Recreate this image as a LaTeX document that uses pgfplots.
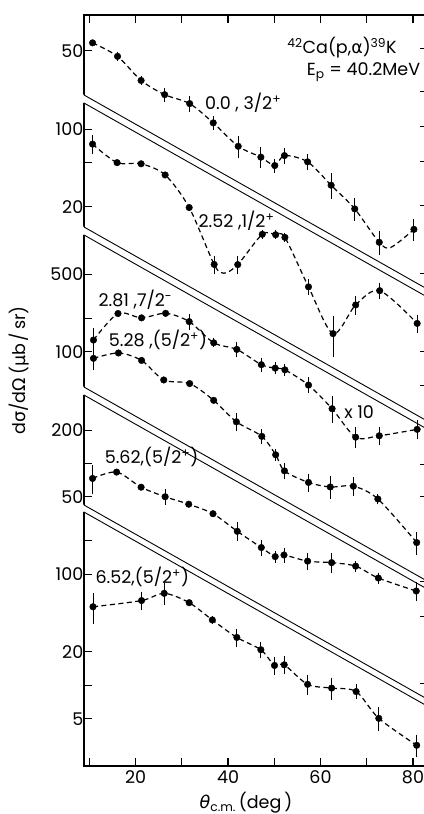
\documentclass[border=0pt]{standalone}
\usepackage{pgfplots}
\pgfplotsset{compat=1.18}
\usepackage{pgfplotstable}
\usepackage{fontspec}
\setmainfont{Poppins}
\newfontfamily\greek{DejaVu Sans}

% Angular distributions: angle (deg), cross section, relative error
\pgfplotstableread{
x v r
10.7 58.9 0
16.1 44.5 0.03
21.2 27.0 0.03
26.3 20.1 0.08
31.7 16.7 0.10
36.8 11.2 0.08
42.2 6.89 0.17
47.1 5.50 0.15
50.1 4.62 0.08
52.2 5.68 0.10
57.2 4.99 0.10
62.3 3.07 0.20
67.4 1.88 0.17
72.7 0.94 0.19
80.2 1.23 0.17
}\dataA
\pgfplotstableread{
x v
10.7 58.9
16.1 44.5
21.2 27.0
26.3 20.1
31.7 16.7
36.8 11.2
42.2 6.89
47.1 5.50
50.1 4.62
52.2 5.68
57.2 4.99
62.3 3.07
67.4 1.88
72.7 0.94
75.2 0.845
80.2 1.23
}\fitA
\pgfplotstableread{
x v r
10.7 73.4 0.13
16.0 50.0 0
21.2 48.8 0
26.4 38.7 0
31.6 19.7 0
37.0 6.05 0.13
42.1 6.03 0.13
47.4 11.3 0.03
50.3 11.2 0.03
52.3 10.6 0.03
57.4 3.8 0.10
62.7 1.44 0.35
67.6 2.61 0.13
72.8 3.51 0.11
80.9 1.78 0.13
}\dataB
\pgfplotstableread{
x v
10.7 73.4
16.0 50.0
21.2 48.8
26.4 38.7
31.6 19.7
37.0 6.05
39.1 5.04
42.1 6.03
47.4 11.3
50.3 11.2
52.3 10.6
57.4 3.8
62.7 1.44
67.6 2.61
72.8 3.51
80.9 1.78
}\fitB
\pgfplotstableread{
x v r
10.9 127.5 0.21
16.2 221 0
21.3 202 0
26.5 222 0
31.6 187 0.10
36.9 120.5 0.03
41.9 105 0.10
47.2 76.5 0.09
50.2 71.2 0.06
52.3 68.7 0.06
57.4 50.1 0.10
62.5 30.7 0.21
67.6 17.0 0.15
72.7 17.5 0.13
80.9 20.0 0.13
}\dataC
\pgfplotstableread{
x v r
10.9 87.2 0.17
16.3 97.5 0
21.3 83.5 0
26.1 55.7 0
31.7 51.7 0
36.9 36.5 0
41.8 23.4 0.13
47.3 17.3 0.09
50.3 11.8 0.06
52.2 8.45 0.11
57.4 6.65 0.13
62.1 6.05 0.17
67.1 6.15 0.13
72.4 4.72 0.05
80.8 1.91 0.17
}\dataD
\pgfplotstableread{
x v r
10.7 73.4 0.23
15.9 83.8 0
21.2 61.2 0
26.4 50.2 0.10
31.5 43.0 0
36.75 35.3 0
42.0 24.5 0.13
47.2 17.5 0.11
50.2 14.5 0.06
52.1 15.0 0.09
57.2 13.2 0.11
62.4 12.8 0.15
67.6 11.9 0.05
72.5 9.3 0.05
80.7 7.1 0.13
}\dataE
\pgfplotstableread{
x v r
10.8 51.0 0.26
21.3 58.0 0.13
26.2 67.4 0.16
31.6 55.5 0
36.6 38.8 0.03
41.9 27.0 0.13
47.1 20.9 0.11
50.05 15.1 0.13
52.15 15.3 0.12
57.2 10.2 0.15
62.4 9.44 0.17
67.7 8.78 0.09
72.6 5.04 0.19
80.8 2.88 0.17
}\dataF

\newcommand\lbl{\fontsize{17.5bp}{20bp}\selectfont}

% each panel is a log scale shifted by its own offset (in decades)
\pgfplotsset{
  pts/.style={only marks, mark=*, mark size=3.3bp, black,
    error bars/.cd, y dir=both, y explicit,
    error bar style={line width=0.9bp, black},
    error mark=-, error mark options={mark size=3bp, line width=0.9bp, black}},
  fit/.style={black, smooth, no marks, line width=1.2bp, dash pattern=on 5bp off 3.5bp},
  sepband/.style={draw=none, fill=white, no marks},
  sepline/.style={black, line width=0.9bp, no marks},
}
\newcommand\datplot[2]{%
  \addplot[pts] table[x=x, y expr={ln(\thisrow{v})/2.302585+#2},
    y error plus expr={ln(1+\thisrow{r})/2.302585},
    y error minus expr={-ln(1-\thisrow{r})/2.302585}] {#1};}
\newcommand\fitplot[2]{%
  \addplot[fit] table[x=x, y expr={ln(\thisrow{v})/2.302585+#2}] {#1};}

\begin{document}
\begin{tikzpicture}[font=\lbl]
\begin{axis}[name=main, scale only axis, width=343.8bp, height=751bp,
  xmin=8.85, xmax=83.2, ymin=0, ymax=6.766, clip=false,
  axis line style={line width=1.3bp},
  tick style={line width=1.1bp, black},
  major tick length=8bp, tick align=inside,
  xtick={10,20,...,80}, xticklabels={,20,,40,,60,,80},
  xtick pos=both, ytick pos=left,
  ytick={0.426,0.727,1.028,1.727,2.028,2.424,2.725,3.026,3.732,4.033,4.431,5.038,5.436,5.737,6.444},
  yticklabels={5,,20,100,,50,,200,100,,500,20,,100,50},
  tick label style={font=\lbl},
  yticklabel style={inner xsep=0.5bp},
  xticklabel style={yshift=-1bp},
  xlabel={{\greek\itshape θ}\textsubscript{c.m.}\,(deg\,)},
  ylabel={d{\greek σ}/d{\greek Ω}\,({\greek μ}b\,/\,sr)},
  every axis x label/.style={at={(axis description cs:0.471,-0.049)}, anchor=center, font=\lbl},
  every axis y label/.style={at={(axis description cs:-0.19,0.527)}, anchor=center, rotate=90, font=\lbl},
]
% axis breaks between the panels
\addplot[sepband] coordinates {(8.6,6.051) (83.2,4.294) (83.2,4.222) (8.6,5.979)};
\addplot[sepband] coordinates {(8.6,4.862) (83.2,3.105) (83.2,3.032) (8.6,4.790)};
\addplot[sepband] coordinates {(8.6,3.420) (83.2,1.663) (83.2,1.591) (8.6,3.348)};
\addplot[sepband] coordinates {(8.6,2.357) (83.2,0.600) (83.2,0.537) (8.6,2.294)};
\addplot[sepline] coordinates {(8.85,6.045) (83.2,4.294)};
\addplot[sepline] coordinates {(8.85,5.973) (83.2,4.222)};
\addplot[sepline] coordinates {(8.85,4.856) (83.2,3.105)};
\addplot[sepline] coordinates {(8.85,4.784) (83.2,3.032)};
\addplot[sepline] coordinates {(8.85,3.414) (83.2,1.663)};
\addplot[sepline] coordinates {(8.85,3.342) (83.2,1.591)};
\addplot[sepline] coordinates {(8.85,2.351) (83.2,0.600)};
\addplot[sepline] coordinates {(8.85,2.288) (83.2,0.537)};

% fitted curves
\fitplot{\fitA}{4.745}
\fitplot{\fitB}{3.737}
\fitplot{\dataC}{1.732}
\fitplot{\dataD}{1.732}
\fitplot{\dataE}{0.725}
\fitplot{\dataF}{-0.273}

% measured points
\datplot{\dataA}{4.745}
\datplot{\dataB}{3.737}
\datplot{\dataC}{1.732}
\datplot{\dataD}{1.732}
\datplot{\dataE}{0.725}
\datplot{\dataF}{-0.273}

\node[anchor=west, inner sep=0] at (axis cs:52.8,6.468) {\textsuperscript{42}Ca(p,{\greek α})\textsuperscript{39}K};
\node[anchor=west, inner sep=0] at (axis cs:57.0,6.25) {E\textsubscript{p} = 40.2MeV};
\node[anchor=west, inner sep=0] at (axis cs:35.0,5.975) {0.0 , 3/2\textsuperscript{+}};
\node[anchor=west, inner sep=0] at (axis cs:33.6,4.91) {2.52 ,1/2\textsuperscript{+}};
\node[anchor=west, inner sep=0] at (axis cs:11.95,4.198) {2.81 ,7/2\textsuperscript{-}};
\node[anchor=west, inner sep=0] at (axis cs:14.2,3.835) {5.28 ,(5/2\textsuperscript{+})};
\node[anchor=west, inner sep=0] at (axis cs:65.1,3.19) {x 10};
\node[anchor=west, inner sep=0] at (axis cs:13.3,2.784) {5.62,(5/2\textsuperscript{+})};
\node[anchor=west, inner sep=0] at (axis cs:11.3,1.703) {6.52,(5/2\textsuperscript{+})};
\end{axis}
% tick marks along the right-hand edge
\begin{axis}[scale only axis, width=343.8bp, height=751bp,
  xmin=8.85, xmax=83.2, ymin=0, ymax=6.766,
  hide x axis, axis y line*=right,
  axis line style={line width=1.3bp},
  tick style={line width=1.1bp, black},
  major tick length=8bp, tick align=inside,
  ytick={0.741,1.345,1.660,2.426,2.714,3.426,3.733,4.435,5.048,5.444,5.759,6.075,6.462},
  yticklabels={},
]
\end{axis}
\pgfresetboundingbox
\path[use as bounding box] ([shift={(-84bp,-48bp)}]main.south west) rectangle ([shift={(340bp,15bp)}]main.north west);
\end{tikzpicture}
\end{document}
